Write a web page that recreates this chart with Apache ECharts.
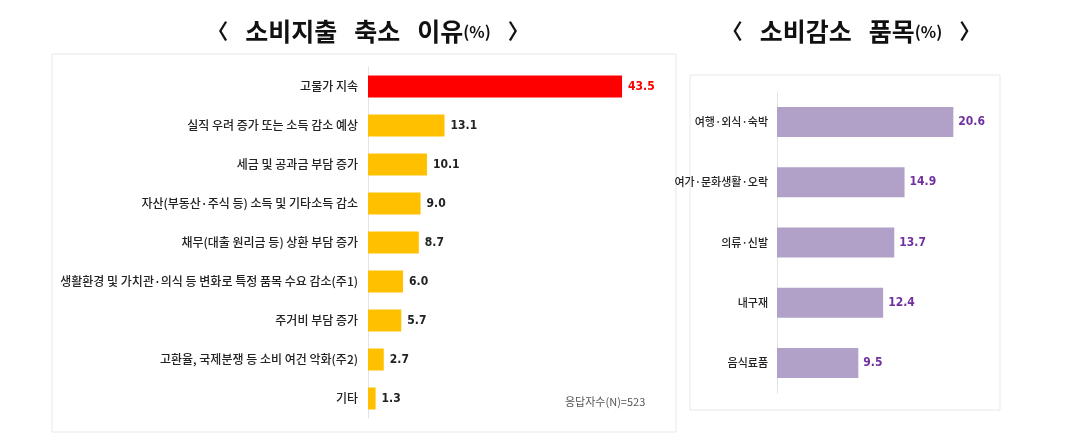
<!DOCTYPE html>
<html>
<head>
<meta charset="utf-8">
<script src="https://cdn.jsdelivr.net/npm/echarts@6/dist/echarts.min.js"></script>
<style>
html,body{margin:0;padding:0;background:#fff;}
#c{width:1078px;height:440px;}
</style>
</head>
<body>
<div id="c"></div>
<script>
const reasons = ['고물가 지속','실직 우려 증가 또는 소득 감소 예상','세금 및 공과금 부담 증가','자산(부동산·주식 등) 소득 및 기타소득 감소','채무(대출 원리금 등) 상환 부담 증가','생활환경 및 가치관·의식 등 변화로 특정 품목 수요 감소(주1)','주거비 부담 증가','고환율, 국제분쟁 등 소비 여건 악화(주2)','기타'];
const reasonValues = [43.5, 13.1, 10.1, 9.0, 8.7, 6.0, 5.7, 2.7, 1.3];
const items = ['여행·외식·숙박','여가·문화생활·오락','의류·신발','내구재','음식료품'];
const itemValues = [20.6, 14.9, 13.7, 12.4, 9.5];
const leftTitle = '{b|〈}   소비지출   축소   이유{s|(%)}   {b|〉}';
const rightTitle = '{b|〈}   소비감소   품목{s|(%)}   {b|〉}';
const note = '응답자수(N)=523';

const KR = '"Noto Sans CJK KR","Noto Sans",sans-serif';
const NUM = '"DejaVu Sans Condensed","Liberation Sans Narrow","Roboto",sans-serif';

const titleStyle = {fontFamily: KR, fontSize: 25, fontWeight: 'bold', color: '#111',
  rich: {
    s: {fontFamily: KR, fontSize: 16, fontWeight: 'bold', color: '#111'},
    b: {fontFamily: KR, fontSize: 21, fontWeight: 'bold', color: '#111'}
  }};

const chart = echarts.init(document.getElementById('c'));
chart.setOption({
  animation: false,
  backgroundColor: '#fff',
  title: [
    {text: leftTitle, left: 363, top: 14, textAlign: 'center', textStyle: titleStyle},
    {text: rightTitle, left: 846, top: 14, textAlign: 'center', textStyle: titleStyle}
  ],
  graphic: [
    {type: 'rect', shape: {x: 52, y: 54, width: 624, height: 378}, style: {fill: 'none', stroke: '#e8e8e8', lineWidth: 1}, z: -1},
    {type: 'rect', shape: {x: 690, y: 75, width: 310, height: 335}, style: {fill: 'none', stroke: '#e8e8e8', lineWidth: 1}, z: -1},
    {type: 'text', left: 565, top: 396, style: {text: note, fontFamily: KR, fontSize: 11, fill: '#555'}}
  ],
  grid: [
    {left: 368, top: 67, width: 292, height: 351},
    {left: 777, top: 92, width: 214, height: 301}
  ],
  xAxis: [
    {gridIndex: 0, type: 'value', min: 0, max: 50, show: false},
    {gridIndex: 1, type: 'value', min: 0, max: 25, show: false}
  ],
  yAxis: [
    {gridIndex: 0, type: 'category', data: reasons, inverse: true,
     axisLine: {show: true, lineStyle: {color: '#e3e3e3'}}, axisTick: {show: false},
     axisLabel: {fontFamily: KR, fontSize: 12, fontWeight: 500, color: '#222', margin: 10}},
    {gridIndex: 1, type: 'category', data: items, inverse: true,
     axisLine: {show: true, lineStyle: {color: '#e3e3e3'}}, axisTick: {show: false},
     axisLabel: {fontFamily: KR, fontSize: 11, fontWeight: 500, color: '#222', margin: 9}}
  ],
  series: [
    {type: 'bar', xAxisIndex: 0, yAxisIndex: 0, barWidth: 22,
     data: reasonValues.map((v, i) => ({
       value: v,
       itemStyle: {color: i === 0 ? '#ff0000' : '#ffc000'},
       label: {color: i === 0 ? '#ff0000' : '#222'}
     })),
     label: {show: true, position: 'right', distance: 6, fontFamily: NUM, fontSize: 12, fontWeight: 'bold',
       formatter: p => p.value.toFixed(1)}},
    {type: 'bar', xAxisIndex: 1, yAxisIndex: 1, barWidth: 30,
     data: itemValues,
     itemStyle: {color: '#b1a0c7'},
     label: {show: true, position: 'right', distance: 5, fontFamily: NUM, fontSize: 12, fontWeight: 'bold', color: '#7030a0',
       formatter: p => p.value.toFixed(1)}}
  ]
});
</script>
</body>
</html>
